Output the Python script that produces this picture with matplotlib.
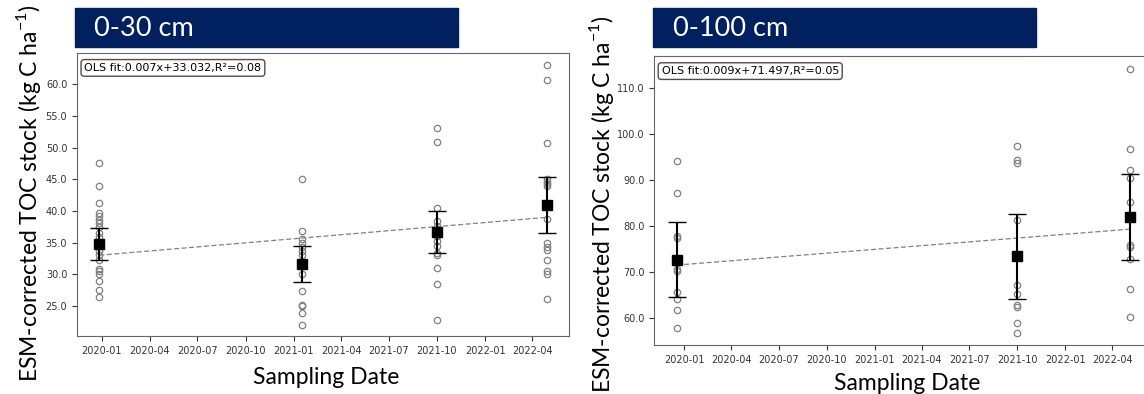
import matplotlib
matplotlib.use("Agg")
import matplotlib.pyplot as plt
import matplotlib.dates as mdates
from matplotlib.patches import Rectangle
from matplotlib.ticker import FormatStrFormatter
import numpy as np
import datetime as dt

# 0-30 cm
dates_30 = [dt.date(2019, 12, 27), dt.date(2021, 1, 16), dt.date(2021, 10, 1), dt.date(2022, 4, 28)]
points_30 = [
    [47.5, 43.9, 41.3, 39.7, 39.2, 38.6, 38.1, 37.4, 36.6, 35.9, 33.7, 33.0, 32.2, 30.8, 30.6, 30.0, 29.0, 27.6, 26.5],
    [45.1, 36.9, 35.6, 34.9, 34.3, 33.7, 33.0, 30.0, 27.4, 25.2, 25.0, 24.0, 22.0],
    [53.1, 50.9, 40.5, 38.5, 37.6, 37.0, 36.5, 36.0, 35.3, 34.5, 33.4, 33.0, 31.0, 28.5, 22.8],
    [63.0, 60.7, 50.7, 45.1, 44.6, 44.2, 43.9, 38.8, 34.9, 34.4, 33.8, 32.2, 30.6, 30.0, 26.1],
]
means_30 = [34.8, 31.6, 36.7, 40.9]
errs_30 = [2.5, 2.85, 3.3, 4.4]
fit_30 = (0.007, 33.032, 0.08)

# 0-100 cm
dates_100 = [dt.date(2019, 12, 18), dt.date(2021, 9, 30), dt.date(2022, 5, 5)]
points_100 = [
    [94.1, 87.2, 77.8, 77.3, 70.6, 70.2, 65.6, 64.2, 61.8, 57.9],
    [97.4, 94.3, 93.8, 81.3, 67.1, 65.3, 62.8, 62.4, 58.8, 56.8],
    [114.1, 96.8, 92.1, 90.4, 85.2, 75.8, 75.5, 72.9, 66.2, 60.2],
]
means_100 = [72.7, 73.4, 82.0]
errs_100 = [8.2, 9.2, 9.4]
fit_100 = (0.009, 71.497, 0.05)

navy = "#002060"
ylab = "ESM-corrected TOC stock (kg C ha$^{\\mathregular{-1}}$)"
label_font = "Lato"

fig = plt.figure(figsize=(11.44, 3.94), dpi=100)


def panel(rect, dates, points, means, errs, fit, ylim):
    ax = fig.add_axes(rect)
    for d, pts in zip(dates, points):
        ax.plot([d] * len(pts), pts, "o", ms=4.6, mfc="none", mec="0.5", mew=0.9)
    ax.errorbar(dates, means, yerr=errs, fmt="s", color="black", ms=6.5,
                elinewidth=1.5, capsize=6.5, capthick=1.0, zorder=5)
    slope, icpt, r2 = fit
    days = np.array([(d - dates[0]).days for d in dates])
    ax.plot([dates[0], dates[-1]], [icpt, icpt + slope * days[-1]],
            "--", color="0.5", lw=0.9, dashes=(4, 2))
    ax.text(0.015, 0.965, f"OLS fit:{slope}x+{icpt},R\u00b2={r2}", transform=ax.transAxes,
            fontsize=8, va="top", ha="left",
            bbox=dict(boxstyle="round,pad=0.3", fc="white", ec="0.3", lw=1))
    ax.xaxis.set_major_locator(mdates.MonthLocator(bymonth=[1, 4, 7, 10]))
    ax.xaxis.set_major_formatter(mdates.DateFormatter("%Y-%m"))
    ax.yaxis.set_major_formatter(FormatStrFormatter("%.1f"))
    ax.set_ylim(*ylim)
    ax.tick_params(labelsize=7, colors="0.2", length=3.5)
    for s in ax.spines.values():
        s.set_color("0.4")
    return ax


panel([0.0673, 0.1472, 0.430, 0.7183], dates_30, points_30, means_30, errs_30, fit_30, (20.3, 64.9))
panel([0.5717, 0.1244, 0.436, 0.7335], dates_100, points_100, means_100, errs_100, fit_100, (54.1, 117.0))

# header bars
for x0, x1, txt, tx in [(75, 458, "0-30 cm", 94), (653, 1036, "0-100 cm", 673)]:
    fig.patches.append(Rectangle((x0 / 1144, 1 - 47 / 394), (x1 - x0) / 1144, 39 / 394,
                                 transform=fig.transFigure, color=navy, zorder=3))
    fig.text(tx / 1144, 1 - 29 / 394, txt, color="white", fontsize=19.5,
             family=label_font, va="center", ha="left", zorder=4)

# axis labels
fig.text(29 / 1144, 1 - 193 / 394, ylab, rotation=90, fontsize=16.5, family=label_font,
         va="center", ha="center")
fig.text(601 / 1144, 1 - 204 / 394, ylab, rotation=90, fontsize=16.5, family=label_font,
         va="center", ha="center")
fig.text(326 / 1144, 1 - 378 / 394, "Sampling Date", fontsize=16.5, family=label_font,
         va="center", ha="center")
fig.text(907 / 1144, 1 - 384 / 394, "Sampling Date", fontsize=16.5, family=label_font,
         va="center", ha="center")

fig.savefig("out.png", dpi=100)
